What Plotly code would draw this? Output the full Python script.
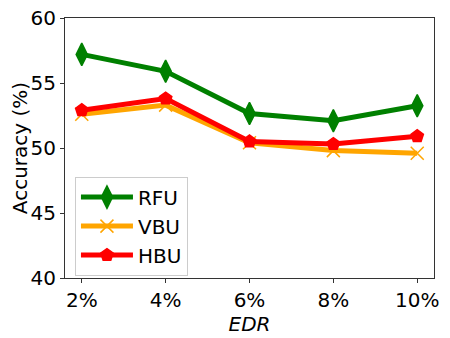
import plotly.graph_objects as go

edr = ["2%", "4%", "6%", "8%", "10%"]
rfu = [57.2, 55.9, 52.65, 52.1, 53.25]
vbu = [52.6, 53.3, 50.4, 49.8, 49.6]
hbu = [52.9, 53.8, 50.5, 50.3, 50.9]

series = [
    ("RFU", rfu, "green", "diamond-tall", 16),
    ("VBU", vbu, "orange", "x-thin-open", 13),
    ("HBU", hbu, "red", "pentagon", 13),
]

fig = go.Figure()
for name, vals, color, symbol, size in series:
    fig.add_trace(
        go.Scatter(
            x=edr,
            y=vals,
            name=name,
            mode="lines+markers",
            line=dict(color=color, width=5),
            marker=dict(
                symbol=symbol,
                size=size,
                color=color,
                line=dict(color=color, width=1.5),
            ),
        )
    )

axis_common = dict(
    showline=True,
    linecolor="#333333",
    linewidth=1.2,
    mirror=True,
    ticks="outside",
    ticklen=4,
    tickcolor="#333333",
    showgrid=False,
    zeroline=False,
    automargin=False,
    ticklabeloverflow="allow",
    tickfont=dict(size=20, color="black"),
)

fig.update_xaxes(
    **axis_common,
    type="category",
    range=[-0.2, 4.2],
    title=dict(text="<i>EDR</i>", font=dict(size=20, color="black"), standoff=0),
)
fig.update_yaxes(
    **axis_common,
    range=[40, 60],
    tickvals=[40, 45, 50, 55, 60],
    title=dict(text="Accuracy (%)", font=dict(size=20, color="black"), standoff=4),
)

# page body adds an 8px offset, so the figure is sized to what remains
fig.update_layout(
    width=442,
    height=330,
    margin=dict(l=57, r=16, t=10, b=60, autoexpand=False),
    paper_bgcolor="white",
    plot_bgcolor="white",
    font=dict(family="DejaVu Sans", color="black"),
    hovermode=False,
    legend=dict(
        x=0.027,
        y=0.39,
        xanchor="left",
        yanchor="top",
        bgcolor="rgba(255,255,255,0.8)",
        bordercolor="#cccccc",
        borderwidth=1,
        font=dict(size=20),
        itemwidth=52,
        tracegroupgap=0,
    ),
)

fig.write_html("out.html")
